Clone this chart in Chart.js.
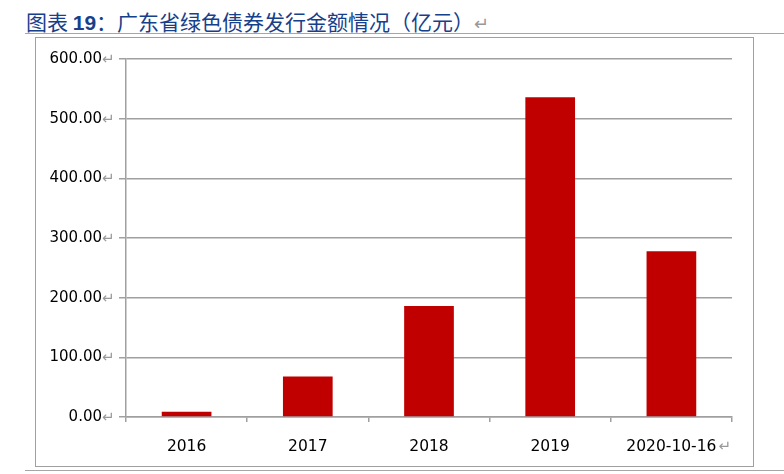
<!DOCTYPE html>
<html>
<head>
<meta charset="utf-8">
<script src="https://cdn.jsdelivr.net/npm/chart.js@4/dist/chart.umd.min.js"></script>
<style>
  body { margin: 0; background: #fff; width: 784px; height: 474px; position: relative; overflow: hidden; }
  #title { position: absolute; left: 26px; top: 6px; font-family: "Noto Sans CJK SC", sans-serif; font-size: 21px; color: #17408b; white-space: nowrap; }
  #title b { font-family: "Liberation Sans", Arial, sans-serif; }
  #title .ret { color: #999; font-size: 18px; }
  .rule { position: absolute; left: 25px; width: 759px; height: 0; border-top: 1.5px solid #a6a6a6; }
  #box { position: absolute; left: 35px; top: 37px; width: 717px; height: 428px; border: 1.5px solid #a0a0a0; }
  #wrap { position: absolute; left: 0; top: -5px; width: 717px; height: 433px; }
</style>
</head>
<body>
<div id="title">图表 <b>19</b>：广东省绿色债券发行金额情况（亿元）<span class="ret">↵</span></div>
<div class="rule" style="top:33px"></div>
<div id="box"><div id="wrap"><canvas id="chart"></canvas></div></div>
<div class="rule" style="top:470px"></div>
<script>
// 广东省绿色债券发行金额（亿元）
const years = ['2016', '2017', '2018', '2019', '2020-10-16'];
const amounts = [9, 68, 186, 536, 278];
const yTicks = [0, 100, 200, 300, 400, 500, 600];

const gridGray = '#a0a0a0';

// gray return marks after the tick labels, like the original Word chart
const returnMarks = {
  id: 'returnMarks',
  afterDraw(chart) {
    const ctx = chart.ctx;
    const y = chart.scales.y;
    const x = chart.scales.x;
    ctx.save();
    ctx.fillStyle = '#999';
    ctx.font = '15px "DejaVu Sans"';
    ctx.textBaseline = 'middle';
    ctx.textAlign = 'left';
    yTicks.forEach(v => {
      ctx.fillText('↵', 66, y.getPixelForValue(v) + 1);
    });
    const last = years.length - 1;
    ctx.fillText('↵', x.getPixelForValue(last) + 47, y.bottom + 30);
    ctx.restore();
  }
};

new Chart(document.getElementById('chart'), {
  type: 'bar',
  data: {
    labels: years,
    datasets: [{
      data: amounts,
      backgroundColor: '#c00000',
      barPercentage: 0.41,
      categoryPercentage: 1
    }]
  },
  options: {
    responsive: true,
    maintainAspectRatio: false,
    animation: false,
    layout: { padding: { top: 0, right: 21, left: 0, bottom: 0 } },
    plugins: { legend: { display: false }, tooltip: { enabled: false } },
    scales: {
      x: {
        offset: true,
        grid: { offset: true, drawOnChartArea: false, drawTicks: true, tickLength: 5, color: gridGray, lineWidth: 1.5 },
        border: { display: true, color: gridGray, width: 1.5 },
        ticks: { color: '#000', font: { family: 'DejaVu Sans', size: 15.5 }, padding: 16 },
        afterFit(scale) { scale.height = 49; }
      },
      y: {
        min: 0,
        max: 600,
        ticks: {
          stepSize: 100,
          color: '#000',
          font: { family: 'DejaVu Sans', size: 15 },
          padding: 17,
          callback: v => v.toFixed(2)
        },
        grid: { color: gridGray, lineWidth: 1.5, tickLength: 7 },
        border: { display: true, color: gridGray, width: 1.5 },
        afterFit(scale) { scale.width = 90; }
      }
    }
  },
  plugins: [returnMarks]
});
</script>
</body>
</html>
